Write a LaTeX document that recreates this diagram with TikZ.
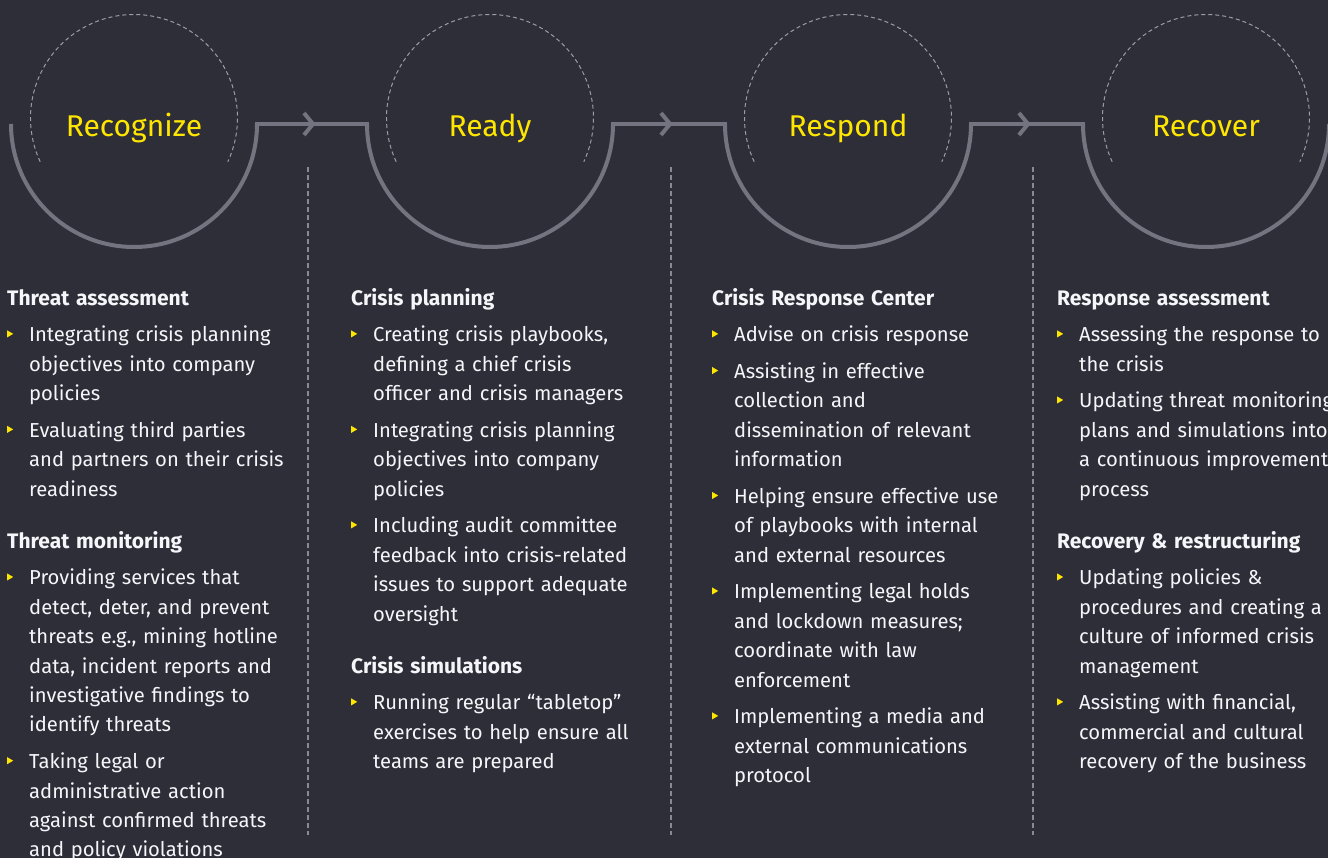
\documentclass[tikz,border=0pt]{standalone}
\usepackage{fontspec}
\setmainfont{Fira Sans}
\definecolor{eybg}{HTML}{2E2E38}
\definecolor{eygrey}{HTML}{747480}
\definecolor{eydash}{HTML}{9C9CA6}
\definecolor{eyyellow}{HTML}{FFE600}
\definecolor{eytext}{HTML}{F6F6FA}
\tikzset{
  ring/.style={draw=eygrey,line width=4pt},
  halo/.style={draw=eydash,line width=1pt,dash pattern=on 4pt off 3pt},
  divider/.style={draw=eygrey!85!white,line width=1.2pt,dash pattern=on 5pt off 3pt},
  stagetitle/.style={text=eyyellow,font=\fontsize{30}{36}\selectfont,anchor=base,inner sep=0pt},
  column/.style={text=eytext,anchor=north west,inner sep=0pt,text width=330pt,
    font=\fontsize{20.2}{29.4}\selectfont\raggedright}
}
\newcommand{\bul}{\tikz[baseline=0pt,x=1pt,y=1pt]\fill[eyyellow] (0,4.5) -- (6,8) -- (0,11.5) -- cycle;}
\newcommand{\colhead}[1]{\noindent\strut{\fontsize{21}{29.4}\selectfont\bfseries #1}\par}
\newcommand{\bitem}[1]{\vspace{7.3pt}\hangindent=22pt\hangafter=1\noindent\makebox[22pt][l]{\bul}#1\par}
\newcommand{\colgap}{\vspace{22.7pt}}
% one stage: solid lower arc, dashed upper arc, title
\newcommand{\stage}[3]{%
  \coordinate (#2) at (#1,124);
  \coordinate (#2w) at (#1-123,124);
  \coordinate (#2e) at (#1+123,124);
  \draw[ring] (#2w) arc[start angle=180,end angle=0,radius=123];
  \draw[halo] (#1,118) ++(155:103.5) arc[start angle=155,end angle=385,radius=103.5];
  \node[stagetitle] (#2t) at (#1,137) {#3};
}
\newcommand{\link}[3]{%
  \draw[ring,line cap=rect] (#1e) -- (#2w) coordinate[pos=0.5] (#3);
  \draw[ring] (#3) ++(-8,-11) -- ++(9,11) -- ++(-9,11);
}

\begin{document}
\begin{tikzpicture}[x=1pt,y=-1pt]
  \fill[eybg] (0,0) rectangle (1328,858);
  \useasboundingbox (0,0) rectangle (1328,858);

  \stage{134}{recognize}{Recognize}
  \stage{490}{ready}{Ready}
  \stage{848}{respond}{Respond}
  \stage{1206}{recover}{Recover}

  \link{recognize}{ready}{m1}
  \link{ready}{respond}{m2}
  \link{respond}{recover}{m3}

  \foreach \x in {308,671,1033}
    \draw[divider] (\x,167) -- (\x,835);

  \node[column] (col1) at (7,284.4) {%
    \colhead{Threat assessment}
    \bitem{Integrating crisis planning\newline objectives into company\newline policies}
    \bitem{Evaluating third parties\newline and partners on their crisis\newline readiness}
    \colgap\colhead{Threat monitoring}
    \bitem{Providing services that\newline detect, deter, and prevent\newline threats e.g., mining hotline\newline data, incident reports and\newline investigative findings to\newline identify threats}
    \bitem{Taking legal or\newline administrative action\newline against confirmed threats\newline and policy violations}};

  \node[column] (col2) at (351,284.4) {%
    \colhead{Crisis planning}
    \bitem{Creating crisis playbooks,\newline defining a chief crisis\newline officer and crisis managers}
    \bitem{Integrating crisis planning\newline objectives into company\newline policies}
    \bitem{Including audit committee\newline feedback into crisis-related\newline issues to support adequate\newline oversight}
    \colgap\colhead{Crisis simulations}
    \bitem{Running regular “tabletop”\newline exercises to help ensure all\newline teams are prepared}};

  \node[column] (col3) at (712,284.4) {%
    \colhead{Crisis Response Center}
    \bitem{Advise on crisis response}
    \bitem{Assisting in effective\newline collection and\newline dissemination of relevant\newline information}
    \bitem{Helping ensure effective use\newline of playbooks with internal\newline and external resources}
    \bitem{Implementing legal holds\newline and lockdown measures;\newline coordinate with law\newline enforcement}
    \bitem{Implementing a media and\newline external communications\newline protocol}};

  \node[column] (col4) at (1057,284.4) {%
    \colhead{Response assessment}
    \bitem{Assessing the response to\newline the crisis}
    \bitem{Updating threat monitoring\newline plans and simulations into\newline a continuous improvement\newline process}
    \colgap\colhead{Recovery \& restructuring}
    \bitem{Updating policies \&\newline procedures and creating a\newline culture of informed crisis\newline management}
    \bitem{Assisting with financial,\newline commercial and cultural\newline recovery of the business}};
\end{tikzpicture}
\end{document}
